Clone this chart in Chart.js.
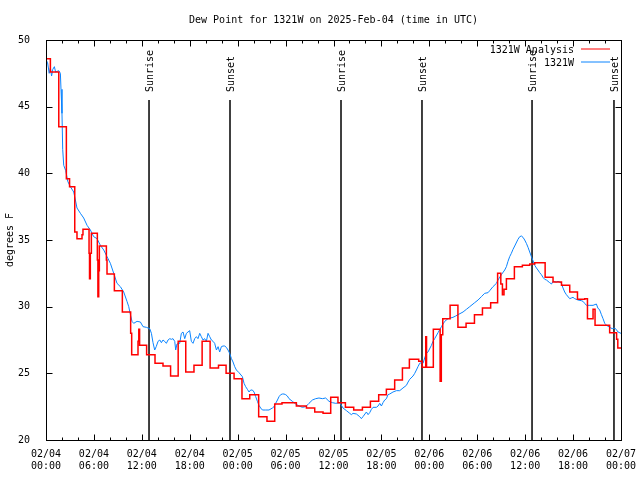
<!DOCTYPE html>
<html>
<head>
<meta charset="utf-8">
<script src="https://cdn.jsdelivr.net/npm/chart.js@4/dist/chart.umd.min.js"></script>
<style>
  html, body { margin: 0; padding: 0; background: #fff; }
</style>
</head>
<body>
<canvas id="chart" width="640" height="480"></canvas>
<script>
// hours since 02/04 00:00 UTC
const analysisTimes = [0, 0.55, 1.6, 2.55, 2.95, 3.6, 3.88, 4.51, 4.63, 5.39, 5.45, 5.55, 5.68, 6.43, 6.5, 6.6, 6.68, 7.56, 7.64, 8.56,
  9.56, 10.6, 10.73, 11.52, 11.62, 11.72, 12.6, 13.65, 14.65, 15.6, 16.55, 17.5, 18.53, 19.55, 20.55, 21.6, 22.55, 23.55, 24.54, 25.51,
  26.63, 27.67, 28.64, 29.55, 31.35, 32.61, 33.65, 34.69, 35.65, 36.56, 37.49, 38.53, 39.62, 40.62, 41.66, 42.62, 43.66, 44.63, 45.5, 46.67,
  47.1, 47.55, 47.65, 48.5, 49.35, 49.5, 49.68, 50.6, 51.58, 52.6, 53.65, 54.65, 55.68, 56.55, 56.95, 57.15, 57.35, 57.65, 58.65, 59.65,
  60.57, 61.2, 62.5, 63.49, 64.55, 65.58, 66.55, 67.46, 67.8, 68.5, 68.75, 70.58, 71.45, 71.6, 72]
const analysisValues = [48.6, 47.6, 43.5, 39.6, 39.0, 35.6, 35.1, 35.4, 35.8, 34.0, 32.1, 34.0, 35.5, 33.5, 30.75, 32.7, 34.55, 33.5, 32.45, 31.2,
  29.6, 28.0, 26.4, 27.4, 28.3, 27.1, 26.4, 25.75, 25.55, 24.8, 27.4, 25.1, 25.6, 27.4, 25.4, 25.6, 25.0, 24.6, 23.1, 23.4,
  21.75, 21.4, 22.7, 22.8, 22.55, 22.4, 22.1, 22.0, 23.2, 22.8, 22.45, 22.25, 22.45, 22.9, 23.4, 23.8, 24.5, 25.4, 26.05, 25.9,
  25.45, 27.75, 25.45, 28.3, 24.4, 27.9, 29.1, 30.1, 28.45, 28.75, 29.4, 29.9, 30.3, 32.5, 31.7, 30.9, 31.3, 32.1, 33.0, 33.1,
  33.2, 33.3, 32.2, 31.85, 31.6, 31.1, 30.55, 30.6, 29.1, 29.8, 28.6, 28.05, 27.55, 26.9, 26.9]

const stationTimes = [0, 0.2, 0.4, 0.55, 0.7, 0.85, 1.05, 1.2, 1.6, 1.8, 1.88, 2.0, 2.09, 2.22, 2.47, 2.72, 3.05, 3.47, 3.68, 3.88,
  4.31, 4.72, 5.14, 5.56, 5.97, 6.39, 6.81, 7.23, 7.64, 8.06, 8.48, 8.89, 9.31, 9.73, 10.14, 10.36, 10.57, 10.77, 10.98, 11.4,
  11.82, 12.15, 12.57, 12.99, 13.2, 13.4, 13.61, 13.8, 14.03, 14.25, 14.45, 14.65, 14.86, 15.07, 15.28, 15.5, 15.7, 15.9, 16.12, 16.24,
  16.4, 16.74, 16.95, 17.16, 17.37, 17.58, 17.78, 17.99, 18.2, 18.41, 18.62, 18.83, 19.03, 19.25, 19.45, 19.66, 19.87, 20.08, 20.29, 20.5,
  20.71, 20.92, 21.12, 21.34, 21.55, 21.75, 21.96, 22.17, 22.38, 22.58, 22.79, 23.0, 23.22, 23.42, 23.63, 23.84, 24.17, 24.59, 24.8, 25.0,
  25.22, 25.42, 25.63, 25.84, 26.05, 26.26, 26.47, 26.67, 26.88, 27.1, 27.51, 27.92, 28.35, 28.55, 28.76, 28.98, 29.18, 29.39, 29.6, 29.8,
  30.01, 30.22, 30.43, 30.85, 31.27, 31.68, 32.11, 32.52, 32.93, 33.36, 33.77, 34.18, 34.61, 35.02, 35.44, 35.86, 36.28, 36.78, 37.19, 37.62,
  38.03, 38.24, 38.44, 38.87, 39.28, 39.49, 39.69, 40.12, 40.33, 40.53, 40.75, 40.95, 41.37, 41.58, 41.79, 42.0, 42.2, 42.41, 42.63, 42.82,
  43.04, 43.45, 43.88, 44.29, 44.7, 45.13, 45.34, 45.54, 45.96, 46.17, 46.38, 46.58, 46.79, 47.0, 47.21, 47.42, 47.63, 47.83, 48.26, 48.46,
  48.67, 49.09, 49.51, 49.93, 50.34, 50.96, 51.3, 51.59, 52.22, 52.64, 53.06, 53.68, 54.1, 54.52, 54.93, 55.35, 55.56, 55.97, 56.4, 56.6,
  57.02, 57.44, 57.65, 57.85, 58.06, 58.27, 58.48, 58.69, 59.1, 59.32, 59.53, 59.73, 59.94, 60.15, 60.36, 60.57, 60.78, 60.98, 61.2, 61.41,
  61.6, 61.82, 62.03, 62.23, 62.45, 62.66, 63.07, 63.3, 63.49, 63.9, 64.11, 64.5, 64.74, 64.95, 65.16, 65.58, 65.78, 65.99, 66.2, 66.62,
  67.03, 67.24, 67.45, 67.67, 68.1, 68.5, 68.92, 69.1, 69.33, 69.55, 69.75, 69.96, 70.2, 70.58, 70.9, 71.21, 71.45, 71.63, 72.0]
const stationValues = [48.5, 48.3, 47.5, 47.9, 47.3, 47.8, 48.0, 47.6, 47.7, 47.5, 46.3, 44.5, 41.8, 40.6, 40.2, 39.4, 39.0, 38.6, 38.0, 37.4,
  37.0, 36.65, 36.1, 35.75, 35.25, 35.1, 34.6, 34.25, 33.75, 33.25, 32.5, 31.75, 31.5, 31.1, 30.4, 30.0, 29.4, 28.9, 28.75, 28.9,
  28.85, 28.5, 28.45, 28.35, 28.0, 27.3, 26.75, 27.0, 27.4, 27.5, 27.3, 27.5, 27.4, 27.25, 27.5, 27.6, 27.55, 27.6, 27.4, 26.75,
  27.2, 27.25, 28.0, 28.1, 27.6, 28.0, 28.1, 28.2, 27.4, 27.25, 27.6, 27.75, 27.6, 28.0, 27.75, 27.5, 27.6, 27.4, 28.0, 27.75,
  27.5, 27.4, 27.25, 26.75, 27.0, 26.6, 27.0, 27.05, 27.05, 26.95, 26.75, 26.5, 26.1, 25.85, 25.5, 25.25, 25.05, 24.75, 24.25, 24.0,
  23.8, 23.6, 23.75, 23.75, 23.6, 23.25, 22.9, 22.6, 22.4, 22.25, 22.25, 22.25, 22.4, 22.5, 22.75, 23.0, 23.25, 23.4, 23.45, 23.45,
  23.4, 23.3, 23.1, 22.9, 22.7, 22.55, 22.45, 22.5, 22.75, 23.0, 23.1, 23.15, 23.1, 23.15, 22.9, 22.8, 22.75, 22.8, 22.4, 22.2,
  22.0, 21.9, 22.0, 21.95, 21.75, 21.6, 21.75, 22.1, 21.9, 22.05, 22.3, 22.45, 22.45, 22.55, 22.75, 22.55, 22.8, 23.0, 23.1, 23.4,
  23.45, 23.6, 23.7, 23.7, 23.9, 24.1, 24.35, 24.55, 24.8, 25.0, 25.25, 25.5, 25.75, 25.8, 25.75, 26.15, 26.5, 26.6, 27.1, 27.4,
  27.6, 28.05, 28.5, 28.9, 29.1, 29.2, 29.3, 29.4, 29.6, 29.8, 30.0, 30.3, 30.5, 30.75, 31.0, 31.05, 31.2, 31.5, 31.75, 32.0,
  32.4, 32.75, 33.0, 33.4, 33.75, 34.0, 34.3, 34.55, 35.05, 35.25, 35.3, 35.2, 35.0, 34.75, 34.45, 34.1, 33.75, 33.45, 33.1, 32.9,
  32.75, 32.55, 32.4, 32.2, 32.05, 32.0, 31.8, 31.7, 31.9, 31.85, 31.9, 31.8, 31.4, 31.1, 30.9, 30.6, 30.65, 30.7, 30.6, 30.5,
  30.45, 30.4, 30.25, 30.1, 30.1, 30.1, 30.2, 29.9, 29.75, 29.4, 29.1, 28.75, 28.6, 28.45, 28.35, 28.4, 28.25, 28.1, 28.0]

const sunTimes = [12.9, 23.04, 36.94, 47.08, 60.86, 71.12]
const sunLabels = ['Sunrise', 'Sunset', 'Sunrise', 'Sunset', 'Sunrise', 'Sunset']

const tickDates = ['02/04', '02/04', '02/04', '02/04', '02/05', '02/05', '02/05', '02/05', '02/06', '02/06', '02/06', '02/06', '02/07']
const tickTimes = ['00:00', '06:00', '12:00', '18:00', '00:00', '06:00', '12:00', '18:00', '00:00', '06:00', '12:00', '18:00', '00:00']

const FONT = "'DejaVu Sans Mono', 'Liberation Mono', monospace"
Chart.defaults.font.family = FONT
Chart.defaults.font.size = 10
Chart.defaults.color = '#000'

function line(ctx, x1, y1, x2, y2) {
  ctx.beginPath()
  ctx.moveTo(x1, y1)
  ctx.lineTo(x2, y2)
  ctx.stroke()
}

// gnuplot look: box border, inward ticks, sun markers, legend in the corner
const gnuFrame = {
  id: 'gnuFrame',
  beforeDatasetsDraw(chart) {
    const {ctx, chartArea: a, scales: {x}} = chart
    const top = a.top + (a.bottom - a.top) * 0.15
    ctx.save()
    ctx.strokeStyle = '#000'
    ctx.lineWidth = 1.5
    sunTimes.forEach(t => {
      const px = x.getPixelForValue(t)
      line(ctx, px, top, px, a.bottom)
    })
    ctx.restore()
  },
  afterDatasetsDraw(chart) {
    const {ctx, chartArea: a, scales: {x, y}} = chart
    const L = Math.round(a.left) + 0.5, R = Math.round(a.right) + 0.5
    const T = Math.round(a.top) + 0.5, B = Math.round(a.bottom) + 0.5
    ctx.save()
    ctx.strokeStyle = '#000'
    ctx.lineWidth = 1
    ctx.strokeRect(L, T, R - L, B - T)
    for (let h = 0; h <= 72; h += 2) {
      const px = Math.round(x.getPixelForValue(h)) + 0.5
      const len = h % 6 === 0 ? 6 : 3
      line(ctx, px, B, px, B - len)
      line(ctx, px, T, px, T + len)
    }
    for (let v = 20; v <= 50; v += 5) {
      const py = Math.round(y.getPixelForValue(v)) + 0.5
      line(ctx, L, py, L + 6, py)
      line(ctx, R, py, R - 6, py)
    }

    // sunrise / sunset labels
    const top = a.top + (a.bottom - a.top) * 0.15
    ctx.fillStyle = '#000'
    ctx.font = '10px ' + FONT
    sunTimes.forEach((t, i) => {
      ctx.save()
      ctx.translate(x.getPixelForValue(t) + 1.5, top - 8)
      ctx.rotate(-Math.PI / 2)
      ctx.textAlign = 'left'
      ctx.textBaseline = 'middle'
      ctx.fillText(sunLabels[i], 0, 0)
      ctx.restore()
    })

    // legend
    chart.data.datasets.forEach((ds, i) => {
      const ly = a.top + 10 + i * 13
      ctx.textAlign = 'right'
      ctx.textBaseline = 'middle'
      ctx.fillStyle = '#000'
      ctx.fillText(ds.label, a.right - 47, ly)
      ctx.strokeStyle = ds.borderColor
      ctx.lineWidth = 1
      line(ctx, a.right - 40, ly - 1, a.right - 11, ly - 1)
    })
    ctx.restore()
  }
}

new Chart(document.getElementById('chart'), {
  type: 'line',
  data: {
    datasets: [{
      label: '1321W Analysis',
      data: analysisTimes.map((t, i) => ({x: t, y: analysisValues[i]})),
      borderColor: '#ff0000',
      borderWidth: 1.5,
      stepped: true,
      pointRadius: 0
    }, {
      label: '1321W',
      data: stationTimes.map((t, i) => ({x: t, y: stationValues[i]})),
      borderColor: '#0a84ff',
      borderWidth: 1,
      pointRadius: 0
    }]
  },
  options: {
    responsive: false,
    animation: false,
    layout: {padding: {left: 0, right: 19, top: 0, bottom: 0}},
    plugins: {
      legend: {display: false},
      tooltip: {enabled: false},
      title: {
        display: true,
        text: 'Dew Point for 1321W on 2025-Feb-04 (time in UTC)',
        fullSize: false,
        font: {size: 10, weight: 'normal'},
        padding: {top: 14, bottom: 14}
      }
    },
    scales: {
      x: {
        type: 'linear',
        min: 0,
        max: 72,
        grid: {display: false},
        border: {display: false},
        ticks: {
          stepSize: 6,
          autoSkip: false,
          maxRotation: 0,
          padding: 0,
          callback: v => [tickDates[v / 6], tickTimes[v / 6]]
        },
        afterFit: s => { s.height = 40; s.paddingLeft = 0; s.paddingRight = 0 }
      },
      y: {
        min: 20,
        max: 50,
        grid: {display: false},
        border: {display: false},
        ticks: {stepSize: 5, padding: 8},
        title: {display: true, text: 'degrees F', padding: {top: 4, bottom: 0}},
        afterFit: s => { s.width = 46 }
      }
    }
  },
  plugins: [gnuFrame]
})
</script>
</body>
</html>
